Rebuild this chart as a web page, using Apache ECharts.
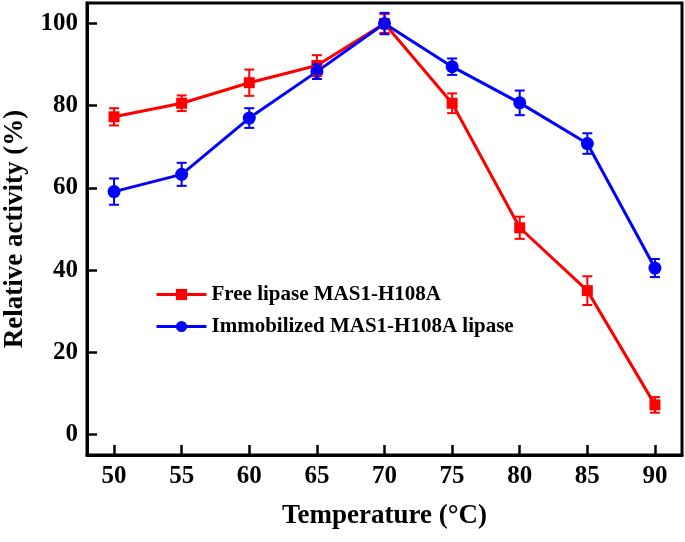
<!DOCTYPE html>
<html>
<head>
<meta charset="utf-8">
<script src="https://cdn.jsdelivr.net/npm/echarts@6/dist/echarts.min.js"></script>
<style>
  html, body { margin: 0; padding: 0; background: #fff; }
  #chart { width: 685px; height: 542px; }
</style>
</head>
<body>
<div id="chart"></div>
<script>
// ---- data ----
var temps = [50, 55, 60, 65, 70, 75, 80, 85, 90];
var freeMean = [77.3, 80.6, 85.6, 89.8, 100.0, 80.6, 50.3, 35.0, 7.2];
var freeErr  = [2.1, 1.9, 3.2, 2.5, 2.3, 2.4, 2.7, 3.5, 1.9];
var immMean  = [59.1, 63.3, 77.0, 88.3, 100.0, 89.5, 80.7, 70.8, 40.5];
var immErr   = [3.2, 2.8, 2.4, 1.8, 2.6, 2.0, 3.0, 2.5, 2.2];
var xTicks = [50, 55, 60, 65, 70, 75, 80, 85, 90];
var yTicks = [0, 20, 40, 60, 80, 100];
var seriesNames = ['Free lipase MAS1-H108A', 'Immobilized MAS1-H108A lipase'];
var xTitle = 'Temperature (\u00B0C)';
var yTitle = 'Relative activity (%)';

var FONT = "'Liberation Serif', 'Times New Roman', serif";
var RED = '#ff0000', BLUE = '#0000ff';

function pairs(xs, ys) { return xs.map(function (x, i) { return [x, ys[i]]; }); }
function errData(xs, ys, es) { return xs.map(function (x, i) { return [x, ys[i] - es[i], ys[i] + es[i]]; }); }

function errRender(color) {
  return function (params, api) {
    var x = api.value(0);
    var lo = api.coord([x, api.value(1)]);
    var hi = api.coord([x, api.value(2)]);
    var hw = 5;
    var style = { stroke: color, lineWidth: 2, fill: null };
    return {
      type: 'group',
      children: [
        { type: 'line', shape: { x1: lo[0], y1: lo[1], x2: hi[0], y2: hi[1] }, style: style },
        { type: 'line', shape: { x1: lo[0] - hw, y1: lo[1], x2: lo[0] + hw, y2: lo[1] }, style: style },
        { type: 'line', shape: { x1: hi[0] - hw, y1: hi[1], x2: hi[0] + hw, y2: hi[1] }, style: style }
      ]
    };
  };
}

var chart = echarts.init(document.getElementById('chart'), null, { renderer: 'canvas' });
chart.setOption({
  backgroundColor: '#fff',
  animation: false,
  grid: {
    left: 87, top: 3, width: 595, height: 452,
    outerBoundsMode: 'none', containLabel: false,
    show: true, borderColor: '#000', borderWidth: 3, backgroundColor: 'transparent'
  },
  legend: {
    data: seriesNames,
    orient: 'vertical',
    left: 150, top: 278,
    itemWidth: 50, itemHeight: 14, itemGap: 9,
    lineStyle: { width: 3 },
    textStyle: { fontFamily: FONT, fontWeight: 'bold', fontSize: 21, color: '#000', lineHeight: 23 }
  },
  xAxis: {
    type: 'value', min: 48, max: 92,
    name: xTitle, nameLocation: 'middle', nameGap: 48,
    nameTextStyle: { fontFamily: FONT, fontWeight: 'bold', fontSize: 27, color: '#000' },
    axisLine: { show: true, onZero: false, lineStyle: { color: '#000', width: 3 } },
    axisTick: { show: true, inside: true, length: 10, lineStyle: { color: '#000', width: 2.5 }, customValues: xTicks },
    axisLabel: { fontFamily: FONT, fontWeight: 'bold', fontSize: 25, color: '#000', margin: 9, customValues: xTicks },
    splitLine: { show: false }
  },
  yAxis: {
    type: 'value', min: -5, max: 105,
    name: yTitle, nameLocation: 'middle', nameGap: 58,
    nameTextStyle: { fontFamily: FONT, fontWeight: 'bold', fontSize: 27, color: '#000' },
    axisLine: { show: true, onZero: false, lineStyle: { color: '#000', width: 3 } },
    axisTick: { show: true, inside: true, length: 10, lineStyle: { color: '#000', width: 2.5 }, customValues: yTicks },
    axisLabel: { fontFamily: FONT, fontWeight: 'bold', fontSize: 25, color: '#000', margin: 9, customValues: yTicks },
    splitLine: { show: false }
  },
  series: [
    {
      name: seriesNames[0], type: 'line', data: pairs(temps, freeMean),
      symbol: 'rect', symbolSize: 11, z: 3,
      lineStyle: { color: RED, width: 3 }, itemStyle: { color: RED }
    },
    {
      name: seriesNames[1], type: 'line', data: pairs(temps, immMean),
      symbol: 'circle', symbolSize: 13, z: 3,
      lineStyle: { color: BLUE, width: 3 }, itemStyle: { color: BLUE }
    },
    {
      name: 'freeErr', type: 'custom', data: errData(temps, freeMean, freeErr),
      renderItem: errRender(RED), z: 4, silent: true
    },
    {
      name: 'immErr', type: 'custom', data: errData(temps, immMean, immErr),
      renderItem: errRender(BLUE), z: 4, silent: true
    }
  ]
});
</script>
</body>
</html>
